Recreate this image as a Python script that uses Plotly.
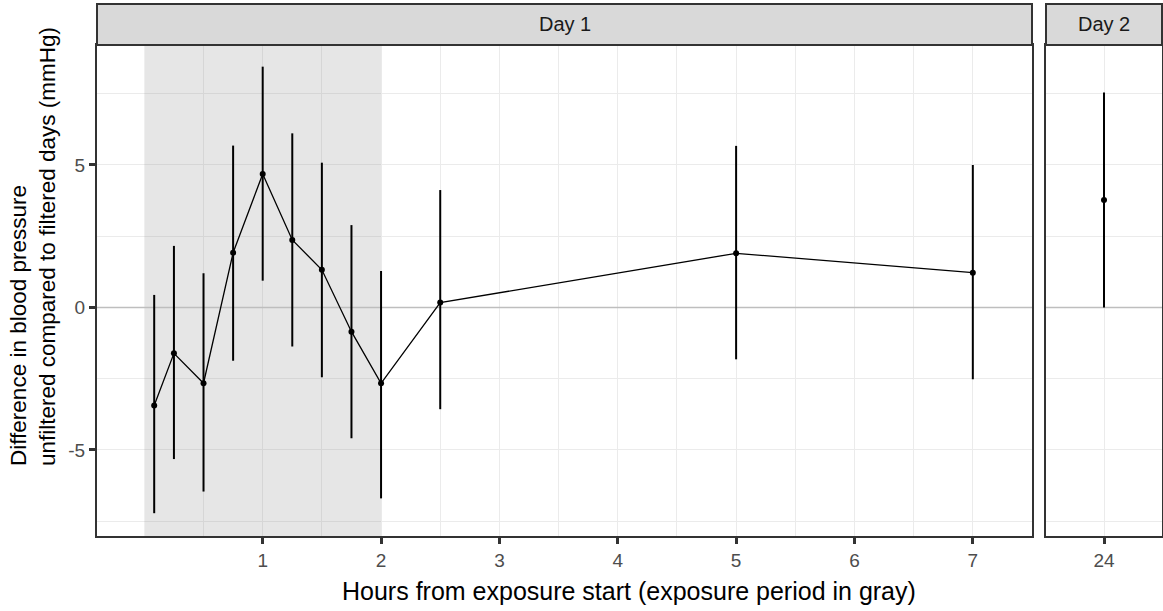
import plotly.graph_objects as go

W, H = 1163, 611

# Data
day1_hours = [0.0833, 0.25, 0.5, 0.75, 1.0, 1.25, 1.5, 1.75, 2.0, 2.5, 5.0, 7.0]
day1_mean = [-3.44, -1.61, -2.66, 1.92, 4.68, 2.37, 1.32, -0.85, -2.66, 0.17, 1.90, 1.22]
day1_lower = [-7.22, -5.32, -6.46, -1.87, 0.94, -1.37, -2.45, -4.59, -6.70, -3.57, -1.82, -2.52]
day1_upper = [0.44, 2.16, 1.20, 5.68, 8.45, 6.11, 5.08, 2.89, 1.28, 4.12, 5.67, 5.00]

day2_hours = [24]
day2_mean = [3.77]
day2_lower = [0.0]
day2_upper = [7.54]

exposure_start, exposure_end = 0, 2
day1_ticks = [1, 2, 3, 4, 5, 6, 7]
day1_minor = [0.5, 1.5, 2.5, 3.5, 4.5, 5.5, 6.5]
y_major = [-5, 0, 5]
y_major_labels = ["-5", "0", "5"]
y_minor = [-7.5, -2.5, 2.5, 7.5]
strip_labels = ["Day 1", "Day 2"]

# Layout geometry (pixels)
p1_left, p1_right = 97, 1032
p2_left, p2_right = 1046, 1162
p_top, p_bottom = 45, 536
strip_top = 4
x1_range = [-0.4, 7.5]
x2_range = [23.5, 24.5]
yrange = [-8.02, 9.21]

def px(x):
    return x / W

def py(y):
    return 1 - y / H

fig = go.Figure()

err1 = dict(type="data", symmetric=False,
            array=[u - m for u, m in zip(day1_upper, day1_mean)],
            arrayminus=[m - l for m, l in zip(day1_mean, day1_lower)],
            color="black", thickness=2, width=0)
fig.add_trace(go.Scatter(x=day1_hours, y=day1_mean, mode="lines+markers",
                         line=dict(color="black", width=1.3),
                         marker=dict(color="black", size=6),
                         error_y=err1, xaxis="x", yaxis="y", showlegend=False))

err2 = dict(type="data", symmetric=False,
            array=[u - m for u, m in zip(day2_upper, day2_mean)],
            arrayminus=[m - l for m, l in zip(day2_mean, day2_lower)],
            color="black", thickness=2, width=0)
fig.add_trace(go.Scatter(x=day2_hours, y=day2_mean, mode="markers",
                         marker=dict(color="black", size=6),
                         error_y=err2, xaxis="x2", yaxis="y2", showlegend=False))

grid = "#EBEBEB"
border = "#333333"
tickfont = dict(family="Liberation Sans, Arial", size=19, color="#4D4D4D")

common_y = dict(range=yrange, showgrid=True, gridcolor=grid, gridwidth=1.3,
                tickmode="array", tickvals=y_major, ticktext=y_major_labels, zeroline=False,
                showline=True, linecolor=border, linewidth=2, mirror=True,
                minor=dict(tickmode="array", tickvals=y_minor, showgrid=True,
                           gridcolor=grid, gridwidth=0.8),
                domain=[py(p_bottom), py(p_top)])

fig.update_layout(
    width=W, height=H,
    margin=dict(l=0, r=0, t=0, b=0),
    paper_bgcolor="white", plot_bgcolor="white",
    font=dict(family="Liberation Sans, Arial", color="black"),
    xaxis=dict(domain=[px(p1_left), px(p1_right)], range=x1_range,
               tickmode="array", tickvals=day1_ticks, ticktext=[str(t) for t in day1_ticks],
               showgrid=True, gridcolor=grid, gridwidth=1.3, zeroline=False,
               minor=dict(tickmode="array", tickvals=day1_minor, showgrid=True,
                          gridcolor=grid, gridwidth=0.8),
               ticks="outside", ticklen=6, tickwidth=3, tickcolor=border,
               tickfont=tickfont,
               showline=True, linecolor=border, linewidth=2, mirror=True,
               anchor="y"),
    xaxis2=dict(domain=[px(p2_left), px(p2_right)], range=x2_range,
                tickmode="array", tickvals=day2_hours, ticktext=[str(t) for t in day2_hours],
                showgrid=True, gridcolor=grid, gridwidth=1.3, zeroline=False,
                ticks="outside", ticklen=6, tickwidth=3, tickcolor=border,
                tickfont=tickfont,
                showline=True, linecolor=border, linewidth=2, mirror=True,
                anchor="y2"),
    yaxis=dict(**common_y, anchor="x", ticks="outside", ticklen=6, tickwidth=3,
               tickcolor=border, tickfont=tickfont, showticklabels=True),
    yaxis2=dict(**common_y, anchor="x2", ticks="", showticklabels=False, matches="y"),
)

shapes = []
# Exposure period rectangle
shapes.append(dict(type="rect", xref="x", yref="y", x0=exposure_start, x1=exposure_end,
                   y0=yrange[0], y1=yrange[1], fillcolor="rgba(128,128,128,0.2)",
                   line=dict(width=0), layer="between"))
# Zero reference lines
shapes.append(dict(type="line", xref="x", yref="y", x0=x1_range[0], x1=x1_range[1], y0=0, y1=0,
                   line=dict(color="#BEBEBE", width=1.5), layer="between"))
shapes.append(dict(type="line", xref="x2", yref="y2", x0=x2_range[0], x1=x2_range[1], y0=0, y1=0,
                   line=dict(color="#BEBEBE", width=1.5), layer="between"))
# Strips
for (l, r) in [(p1_left, p1_right), (p2_left, p2_right)]:
    shapes.append(dict(type="rect", xref="paper", yref="paper", x0=px(l), x1=px(r),
                       y0=py(p_top), y1=py(strip_top), fillcolor="#D9D9D9",
                       line=dict(color=border, width=2), layer="above"))
fig.update_layout(shapes=shapes)

annotations = []
for lab, (l, r) in zip(strip_labels, [(p1_left, p1_right), (p2_left, p2_right)]):
    annotations.append(dict(text=lab, xref="paper", yref="paper", x=px((l + r) / 2),
                            y=py((strip_top + p_top) / 2), xanchor="center", yanchor="middle",
                            showarrow=False,
                            font=dict(family="Liberation Sans, Arial", size=20, color="#1A1A1A")))
annotations.append(dict(text="Hours from exposure start (exposure period in gray)",
                        xref="paper", yref="paper", x=px((p1_left + p2_right) / 2), y=py(591),
                        xanchor="center", yanchor="middle", showarrow=False,
                        font=dict(family="Liberation Sans, Arial", size=25, color="black")))
annotations.append(dict(text="Difference in blood pressure<br>unfiltered compared to filtered days (mmHg)",
                        xref="paper", yref="paper", x=px(33), y=py(247),
                        xanchor="center", yanchor="middle", showarrow=False, textangle=-90,
                        align="left",
                        font=dict(family="Liberation Sans, Arial", size=22.5, color="black")))
fig.update_layout(annotations=annotations)

fig.write_html("out.html")
